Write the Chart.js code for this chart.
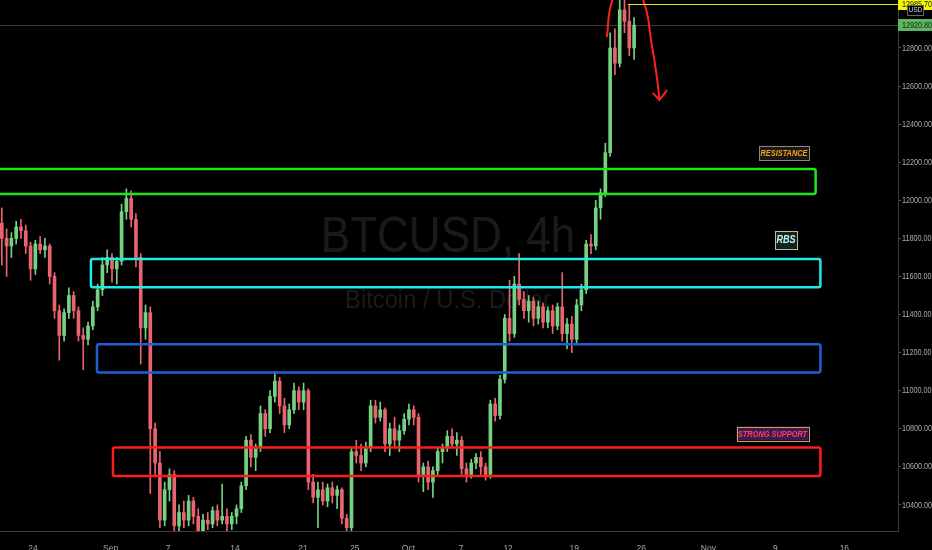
<!DOCTYPE html>
<html><head><meta charset="utf-8">
<script src="https://cdn.jsdelivr.net/npm/chart.js@4.4.1/dist/chart.umd.min.js"></script>
<style>html,body{margin:0;padding:0;background:#000;overflow:hidden}canvas{display:block}</style>
</head><body><canvas id="c" width="932" height="550"></canvas>
<script>
// ---- data (12h candles, x = days after Aug 24) ----
const candleStart = -3.25, candleStep = 0.5;
const opens  = [11880,11800,11760,11800,11860,11840,11760,11640,11770,11740,11760,11600,11420,11290,11410,11500,11420,11290,11270,11340,11440,11530,11660,11700,11640,11680,11940,12010,11900,11700,11330,11410,10800,10620,10320,10480,10560,10290,10360,10320,10420,10340,10260,10320,10300,10370,10320,10340,10300,10340,10380,10500,10740,10650,10700,10880,10800,10970,11050,10920,10820,10900,11000,10940,11000,10520,10440,10480,10420,10490,10450,10480,10330,10280,10680,10660,10620,10700,10920,10860,10900,10720,10800,10740,10790,10850,10900,10860,10560,10600,10520,10580,10680,10700,10760,10720,10740,10590,10560,10620,10650,10600,10560,10930,10870,11060,11380,11300,11560,11480,11420,11470,11380,11440,11360,11420,11340,11440,11300,11350,11270,11450,11530,11770,11760,11960,12040,12250,12800,12720,13000,12940,12800];
const highs  = [11960,11850,11830,11890,11900,11870,11780,11790,11810,11800,11770,11620,11450,11430,11540,11520,11440,11330,11360,11470,11560,11700,11740,11720,11700,11980,12060,12050,11930,11720,11450,11440,10830,10680,10520,10590,10580,10400,10420,10450,10440,10380,10350,10360,10390,10400,10510,10380,10360,10400,10520,10760,10770,10720,10920,10900,11000,11100,11070,10960,10930,11040,11020,11040,11010,10560,10520,10520,10510,10520,10500,10490,10350,10700,10740,10720,10730,10950,10950,10940,10910,10830,10860,10820,10880,10930,10920,10880,10620,10630,10600,10700,10720,10790,10800,10780,10760,10620,10640,10670,10680,10620,10950,10960,11080,11400,11580,11600,11720,11520,11500,11490,11470,11460,11440,11450,11460,11620,11380,11390,11480,11560,11790,11820,12000,12060,12300,12880,12900,13070,13060,13030,12960];
const lows   = [11660,11600,11700,11770,11800,11720,11580,11610,11720,11700,11560,11380,11160,11260,11380,11380,11260,11110,11240,11320,11420,11500,11620,11570,11560,11660,11900,11860,11650,11140,11270,10460,10560,10280,10290,10420,10230,10240,10280,10290,10300,10230,10220,10270,10280,10290,10300,10250,10270,10300,10360,10480,10600,10580,10680,10760,10780,10940,10880,10780,10800,10880,10900,10900,10480,10410,10280,10400,10390,10410,10380,10300,10210,10260,10620,10580,10600,10680,10830,10840,10680,10660,10700,10680,10770,10820,10820,10520,10470,10480,10440,10560,10620,10680,10700,10660,10560,10520,10540,10590,10560,10530,10540,10840,10850,11040,11260,11280,11450,11380,11360,11340,11350,11330,11330,11300,11320,11260,11220,11200,11250,11420,11510,11720,11740,11900,12020,12230,12660,12700,12880,12760,12740];
const closes = [11800,11760,11800,11860,11840,11760,11640,11770,11740,11760,11600,11420,11290,11410,11500,11420,11290,11270,11340,11440,11530,11660,11700,11640,11680,11940,12010,11900,11700,11330,11410,10800,10620,10320,10480,10560,10290,10360,10320,10420,10340,10260,10320,10300,10370,10320,10340,10300,10340,10380,10500,10740,10650,10700,10880,10800,10970,11050,10920,10820,10900,11000,10940,11000,10520,10440,10480,10420,10490,10450,10480,10330,10280,10680,10660,10620,10700,10920,10860,10900,10720,10800,10740,10790,10850,10900,10860,10560,10600,10520,10580,10680,10700,10760,10720,10740,10590,10560,10620,10650,10600,10560,10930,10870,11060,11380,11300,11560,11480,11420,11470,11380,11440,11360,11420,11340,11440,11300,11350,11270,11450,11530,11770,11760,11960,12040,12250,12800,12720,13000,12940,12800,12920];

const xTickPos    = [0, 8.1, 14.1, 21.1, 28.2, 33.6, 39.2, 44.7, 49.6, 56.5, 63.5, 70.5, 77.5, 84.7];
const xTickLabels = ['24','Sep','7','14','21','25','Oct','7','12','19','26','Nov','9','16'];
const yTickValues = [10400,10600,10800,11000,11200,11400,11600,11800,12000,12200,12400,12600,12800];

// zones (boxes)
const zoneStart = [-6, 6.05, 6.68, 8.35];
const zoneEnd   = [81.7, 82.2, 82.2, 82.2];
const zoneLow   = [12033, 11543, 11095, 10552];
const zoneHigh  = [12164, 11692, 11244, 10701];

// zone labels
const noteTexts = ['RESISTANCE', 'RBS', 'STRONG SUPPORT'];
const noteX     = [78.4, 78.6, 77.2];
const noteY     = [12249, 11792, 10775];

// drawn arrow
const arcX  = [59.9, 60.5, 62.1, 63.7, 64.6, 65.1, 65.4];
const arcY  = [12857, 13052, 13157, 13052, 12816, 12658, 12527];
const headX = [64.7, 65.4, 66.2];
const headY = [12564, 12527, 12579];

const lastPrice = 12920.80;
const highPrice = 13031, highText = '12985.70', highStart = 62.1;

// ---- styles ----
const UP = '#74d282', DOWN = '#ea6470';
const zoneColors = ['#1ee61e', '#22e8e8', '#1f5fd6', '#ff1c1c'];
const noteStyles = [
  {fg:'#f0a020', bg:'#1a1814', border:'#8a8a80', w:50, h:14},
  {fg:'#c8f4ee', bg:'#0c2624', border:'#d4b684', w:22, h:18},
  {fg:'#ff3a66', bg:'#3c1c4a', border:'#c8a058', w:72, h:14}
];
const FONT = "'Liberation Sans',Arial,sans-serif";

const colors = opens.map((o, i) => closes[i] >= o ? UP : DOWN);
const tx = i => candleStart + i * candleStep;

function narrowText(ctx, text, x, y, scaleX, align) {
  ctx.save();
  ctx.translate(x, y);
  ctx.scale(scaleX, 1);
  ctx.textAlign = align;
  ctx.fillText(text, 0, 0);
  ctx.restore();
}

const overlay = {
  id: 'overlay',
  beforeDatasetsDraw(chart) {
    const {ctx, chartArea: a, scales: {x, y}} = chart;
    ctx.save();
    ctx.fillStyle = 'rgba(255,255,255,0.10)';
    ctx.textBaseline = 'middle';
    ctx.font = '50px ' + FONT;
    narrowText(ctx, 'BTCUSD, 4h', (a.left + a.right) / 2 - 1, 238, 0.88, 'center');
    ctx.font = '25px ' + FONT;
    narrowText(ctx, 'Bitcoin / U.S. Dollar', (a.left + a.right) / 2 - 1, 301, 0.95, 'center');
    const ly = Math.round(y.getPixelForValue(lastPrice)) + 0.5;
    ctx.strokeStyle = '#3a3a3a'; ctx.lineWidth = 1;
    ctx.beginPath(); ctx.moveTo(a.left, ly); ctx.lineTo(a.right, ly); ctx.stroke();
    ctx.restore();
  },
  afterDatasetsDraw(chart) {
    const {ctx, chartArea: a, scales: {x, y}} = chart;
    ctx.save();
    ctx.beginPath(); ctx.rect(a.left, a.top, a.right - a.left, a.bottom - a.top); ctx.clip();
    ctx.lineWidth = 2.5;
    zoneStart.forEach((s, i) => {
      const x1 = x.getPixelForValue(s), x2 = x.getPixelForValue(zoneEnd[i]);
      const y1 = y.getPixelForValue(zoneHigh[i]), y2 = y.getPixelForValue(zoneLow[i]);
      ctx.strokeStyle = zoneColors[i];
      ctx.beginPath(); ctx.roundRect(x1, y1, x2 - x1, y2 - y1, 2); ctx.stroke();
    });
    const hy = Math.round(y.getPixelForValue(highPrice)) + 0.5;
    ctx.strokeStyle = '#e8e820'; ctx.lineWidth = 1;
    ctx.beginPath(); ctx.moveTo(x.getPixelForValue(highStart), hy); ctx.lineTo(a.right, hy); ctx.stroke();
    noteTexts.forEach((t, i) => {
      const st = noteStyles[i];
      const cx = x.getPixelForValue(noteX[i]), cy = y.getPixelForValue(noteY[i]);
      ctx.fillStyle = st.bg; ctx.fillRect(cx - st.w / 2, cy - st.h / 2, st.w, st.h);
      ctx.strokeStyle = st.border; ctx.lineWidth = 1;
      ctx.strokeRect(Math.round(cx - st.w / 2) + 0.5, Math.round(cy - st.h / 2) + 0.5, st.w, st.h);
      ctx.fillStyle = st.fg; ctx.textBaseline = 'middle';
      ctx.font = (i === 1 ? 'italic bold 11px ' : 'italic bold 9px ') + FONT;
      narrowText(ctx, t, cx, cy + 0.5, 0.82, 'center');
    });
    ctx.restore();
  },
  afterDraw(chart) {
    const {ctx, chartArea: a, scales: {y}, width} = chart;
    ctx.save();
    ctx.textBaseline = 'middle';
    ctx.font = '9.5px ' + FONT; ctx.fillStyle = '#ababab';
    yTickValues.forEach(v => narrowText(ctx, v.toFixed(2), a.right + 4, y.getPixelForValue(v), 0.76, 'left'));
    const hy = y.getPixelForValue(highPrice);
    ctx.fillStyle = '#f5f500'; ctx.fillRect(a.right, hy - 6, width - a.right, 12);
    ctx.fillStyle = '#222'; narrowText(ctx, highText, a.right + 4, hy, 0.76, 'left');
    const gy = y.getPixelForValue(lastPrice);
    ctx.fillStyle = '#5cb860'; ctx.fillRect(a.right, gy - 6, width - a.right, 12);
    ctx.fillStyle = '#10240f'; narrowText(ctx, lastPrice.toFixed(2), a.right + 4, gy, 0.76, 'left');
    ctx.fillStyle = '#000'; ctx.fillRect(907, 5, 17, 11);
    ctx.strokeStyle = '#666'; ctx.lineWidth = 1; ctx.strokeRect(907.5, 5.5, 16, 10);
    ctx.fillStyle = '#ddd'; ctx.font = '7px ' + FONT; narrowText(ctx, 'USD', 915.5, 10.5, 0.9, 'center');
    ctx.restore();
  }
};

new Chart(document.getElementById('c'), {
  type: 'bar',
  data: {
    datasets: [
      {type: 'bar', data: opens.map((_, i) => ({x: tx(i), y: [lows[i], highs[i]]})), backgroundColor: colors,
       barThickness: 1, grouped: false, borderWidth: 0, order: 3},
      {type: 'bar', data: opens.map((o, i) => ({x: tx(i), y: [o, closes[i]]})), backgroundColor: colors,
       barThickness: 3, grouped: false, borderWidth: 0, minBarLength: 1, order: 2},
      {type: 'line', data: arcX.map((v, i) => ({x: v, y: arcY[i]})), borderColor: '#ff2020', borderWidth: 2,
       tension: 0.45, pointRadius: 0, fill: false, order: 1},
      {type: 'line', data: headX.map((v, i) => ({x: v, y: headY[i]})), borderColor: '#ff2020', borderWidth: 2,
       tension: 0, pointRadius: 0, fill: false, order: 1}
    ]
  },
  options: {
    responsive: false, animation: false, devicePixelRatio: 1,
    layout: {padding: 0},
    plugins: {legend: {display: false}, tooltip: {enabled: false}},
    scales: {
      x: {
        type: 'linear', min: -3.44, max: 90.3, offset: false,
        afterBuildTicks: s => { s.ticks = xTickPos.map(v => ({value: v})); },
        afterFit: s => { s.height = 19; s.paddingLeft = 0; s.paddingRight = 0; },
        grid: {display: false},
        border: {display: true, color: '#3c3c3c', width: 1},
        ticks: {autoSkip: false, maxRotation: 0, padding: 5, color: '#a8a8a8',
                font: {family: FONT, size: 8.5},
                callback: (v, i) => xTickLabels[i]}
      },
      y: {
        type: 'linear', position: 'right', min: 10263, max: 13052,
        afterBuildTicks: s => { s.ticks = yTickValues.map(v => ({value: v})); },
        afterFit: s => { s.width = 34; s.paddingTop = 0; s.paddingBottom = 0; },
        grid: {display: true, drawOnChartArea: false, drawTicks: true, tickLength: 3, tickColor: '#555'},
        border: {display: true, color: '#3c3c3c', width: 1},
        ticks: {padding: 1, color: 'rgba(0,0,0,0)', font: {family: FONT, size: 8},
                callback: v => Number(v).toFixed(2)}
      }
    }
  },
  plugins: [overlay]
});
</script>
</body></html>
